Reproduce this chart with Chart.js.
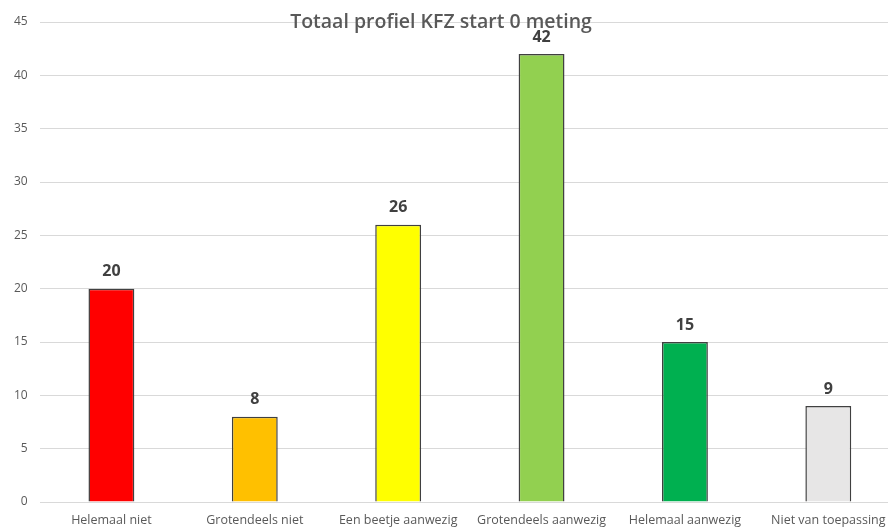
<!DOCTYPE html>
<html><head><meta charset="utf-8">
<script src="https://cdn.jsdelivr.net/npm/chart.js@4/dist/chart.umd.min.js"></script>
<style>html,body{margin:0;padding:0;background:#fff;overflow:hidden}#wrap{width:888px;height:528px;overflow:hidden}canvas{display:block}</style>
</head><body><div id="wrap"><canvas id="c" width="902" height="528"></canvas></div>
<script>
const title = "Totaal profiel KFZ start 0 meting";
const categories = ["Helemaal niet","Grotendeels niet","Een beetje aanwezig","Grotendeels aanwezig","Helemaal aanwezig","Niet van toepassing"];
const values = [20, 8, 26, 42, 15, 9];
const colors = ["#FF0000","#FFC000","#FFFF00","#92D050","#00B050","#E7E6E6"];
const yTicks = [0,5,10,15,20,25,30,35,40,45];

const FONT = "'Open Sans', sans-serif";
const overlay = {
  id:'overlay',
  afterDatasetsDraw(chart){
    const ctx = chart.ctx;
    const meta = chart.getDatasetMeta(0);
    ctx.save();
    ctx.fillStyle = '#404040';
    ctx.font = "bold 16px " + FONT;
    ctx.textAlign = 'center';
    ctx.textBaseline = 'bottom';
    meta.data.forEach((bar,i)=>{
      ctx.fillText(String(values[i]), bar.x, bar.y - 9);
    });
    ctx.fillStyle = '#595959';
    ctx.font = "600 19.5px " + FONT;
    ctx.textBaseline = 'middle';
    ctx.fillText(title, 441, 22);
    ctx.restore();
  }
};

new Chart(document.getElementById('c'), {
  type:'bar',
  data:{labels:categories, datasets:[{data:values, backgroundColor:colors, borderColor:'#404040', borderWidth:1.5, barPercentage:0.32, categoryPercentage:1}]},
  options:{
    responsive:false, animation:false,
    layout:{padding:{top:22,right:2,left:2,bottom:0}},
    plugins:{legend:{display:false}, title:{display:false}, tooltip:{enabled:false}},
    scales:{
      y:{min:0,max:45,afterBuildTicks(s){s.ticks=yTicks.map(v=>({value:v}));},
        grid:{color:'#D9D9D9',lineWidth:1,drawTicks:false},
        border:{display:false},
        ticks:{color:'#595959',font:{family:FONT,size:12},padding:12}},
      x:{grid:{display:false,drawTicks:false},border:{display:false},
        afterFit(s){ s.height = 26; },
        ticks:{color:'#595959',font:{family:FONT,size:12.5},maxRotation:0,autoSkip:false,padding:11}}
    }
  },
  plugins:[overlay]
});
</script></body></html>
